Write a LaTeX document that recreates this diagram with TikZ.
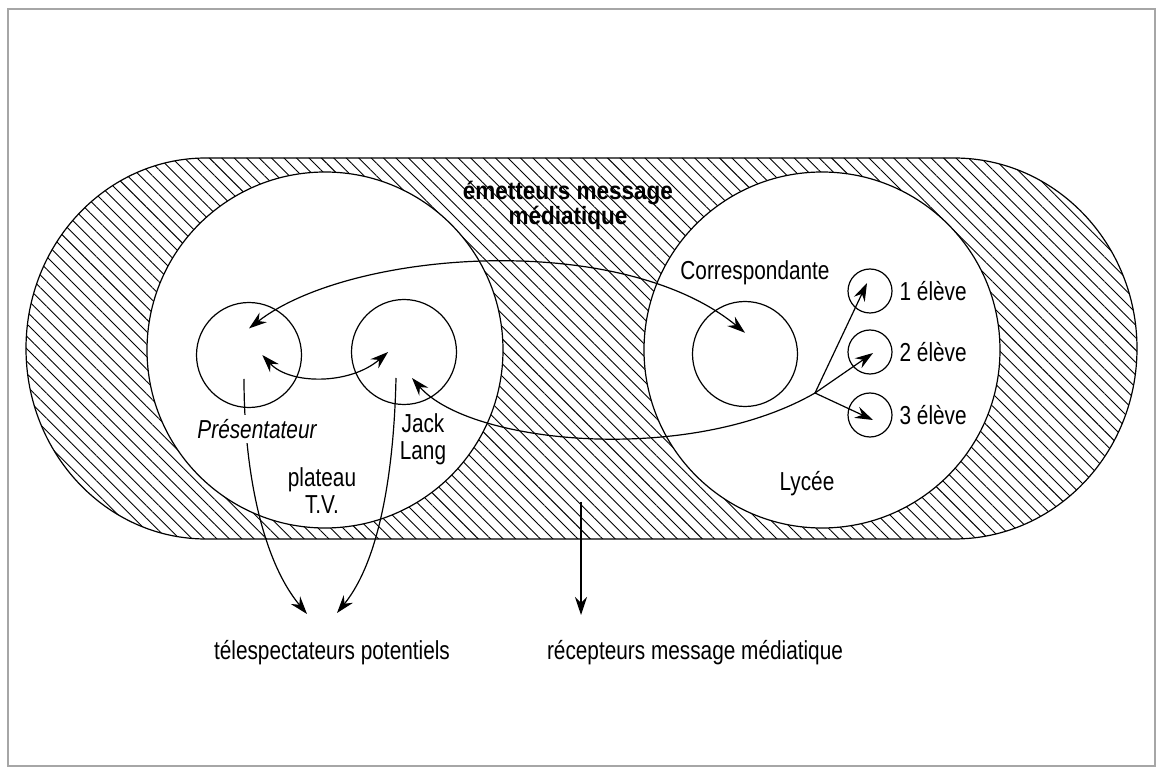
\documentclass[tikz,border=0pt]{standalone}
\usepackage{fontspec}
\setmainfont{Liberation Sans}[FakeStretch=0.8]
\newfontfamily\titlefont{Liberation Sans}[FakeStretch=0.9]
\usetikzlibrary{arrows.meta, patterns.meta, positioning, calc}
\newcommand{\diagfont}{\fontsize{13}{13.5}\selectfont}
\tikzstyle{ring} = [draw, circle, inner sep=0pt, line width=0.6pt]
\tikzstyle{bigring} = [ring, fill=white, minimum size=178pt]
\tikzstyle{smallring} = [ring, minimum size=52.5pt]
\tikzstyle{tinyring} = [ring, minimum size=22pt]
\tikzstyle{txt} = [inner sep=1pt, align=center]
\tikzstyle{flow} = [line width=0.6pt]

\begin{document}
\begin{tikzpicture}[x=0.5pt,y=-0.5pt,font=\diagfont,>={Stealth[length=9pt,width=6pt,inset=3pt]}]
\useasboundingbox (0,0) rectangle (1158,770);
\draw [gray!70, line width=0.6pt] (8,9) rectangle (1155,766);

% hatched stadium
\draw [line width=0.6pt, pattern={Lines[angle=-45,distance=4.4pt,line width=0.45pt]}]
  (206,158) -- (954,158) arc [start angle=-90, end angle=90, x radius=183, y radius=190.5]
  -- (206,539) arc [start angle=90, end angle=270, x radius=180, y radius=190.5] -- cycle;

\node [bigring] (plateau) at (325,350) {};
\node [bigring] (lycee) at (822,350) {};
\node [smallring] (pres) at (249,355) {};
\node [smallring] (jack) at (404,352) {};
\node [smallring] (corr) at (745,354) {};
\node [tinyring] (e1) at (870,291) {};
\node [tinyring] (e2) at (870,352) {};
\node [tinyring] (e3) at (870,415) {};

\node [txt, font=\titlefont\bfseries\fontsize{12.5}{12.5}\selectfont] (emit) at (568,205) {émetteurs message\\médiatique};
\node [txt] (corrlab) at (755,273) {Correspondante};
\node [right=0pt of e1] (e1lab) {1 élève};
\node [right=0pt of e2] (e2lab) {2 élève};
\node [right=0pt of e3] (e3lab) {3 élève};
\node [txt] (lycelab) at (807,484) {Lycée};
\node [txt] (jacklab) at (423,439) {Jack\\Lang};
\node [txt] (platlab) at (322,491) {plateau\\T.V.};
\node [anchor=base] (tele) at (332,659) {télespectateurs potentiels};
\node [anchor=base] (recep) at (695,659) {récepteurs message médiatique};

\coordinate (fork) at (815,393);
\coordinate (hatch) at (581,502);

\draw [flow, <->] ($(pres)!.5!(pres.north)$) .. controls (350,250) and (620,230) .. ($(corr)!.4!(corr.north)$);
\draw [flow, <->] ($(pres)!.25!(pres.east)$) .. controls (290,385) and (350,385) .. ($(jack)!.3!(jack.west)$);
\draw [flow, ->] (fork) .. controls (690,465) and (470,445) .. ($(jack)+(8,26)$);
\draw [flow, ->] (fork) -- ($(e1)+(-3,-8)$);
\draw [flow, ->] (fork) -- ($(e2)+(3,1)$);
\draw [flow, ->] (fork) -- ($(e3)+(3,5)$);
\draw [flow, ->] ($(pres)+(-5,24)$) .. controls (244,470) and (262,560) .. ($(tele.base)+(-25,-45)$);
\draw [flow, ->] ($(jack)+(-8,26)$) .. controls (394,470) and (380,560) .. ($(tele.base)+(5,-46)$);
\draw [flow, ->] (hatch) -- ($(recep.base)+(-114,-44)$);

\node [txt, fill=white, inner sep=2pt, font=\diagfont\itshape] (preslab) at (257,429) {Présentateur};
\end{tikzpicture}
\end{document}
